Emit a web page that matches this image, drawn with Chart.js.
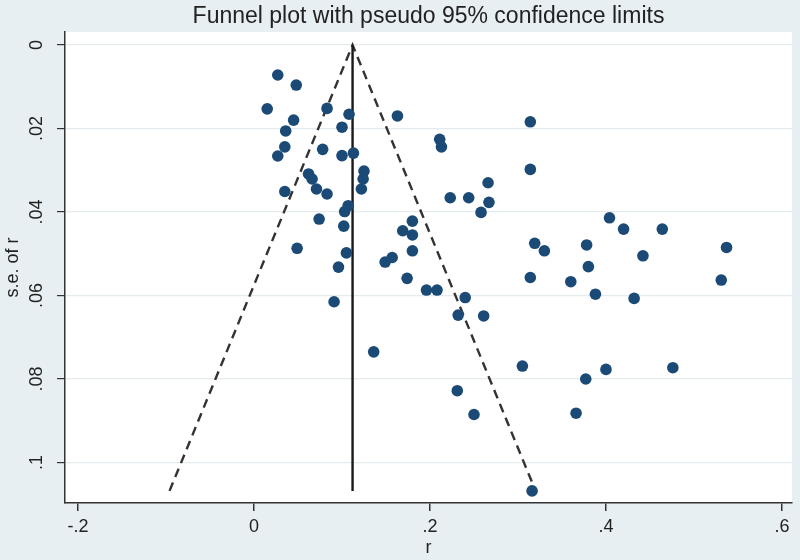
<!DOCTYPE html>
<html lang="en">
<head>
<meta charset="UTF-8">
<title>Funnel plot</title>
<script src="https://cdn.jsdelivr.net/npm/chart.js"></script>
<style>
    body {
        margin: 0;
        background-color: #e8eff2;
    }
    .chart-box {
        width: 800px;
        height: 560px;
    }
</style>
</head>
<body>
<div class="chart-box"><canvas id="funnelChart" width="800" height="560"></canvas></div>
<script>
// study effect sizes (r) and their standard errors
const rValues = [
    0.027, 0.048, 0.015, 0.083, 0.108, 0.045, 0.100, 0.036, 0.035, 0.078,
    0.027, 0.100, 0.113, 0.125, 0.124, 0.122, 0.062, 0.066, 0.035, 0.071,
    0.083, 0.107, 0.103, 0.074, 0.102, 0.049, 0.105, 0.096, 0.149, 0.157,
    0.163, 0.314, 0.211, 0.213, 0.314, 0.266, 0.223, 0.244, 0.267, 0.258,
    0.180, 0.169, 0.180, 0.180, 0.319, 0.330, 0.174, 0.314, 0.360, 0.196,
    0.208, 0.240, 0.232, 0.261, 0.305, 0.231, 0.250, 0.366, 0.316, 0.091,
    0.136, 0.404, 0.420, 0.464, 0.378, 0.442, 0.537, 0.380, 0.531, 0.388,
    0.432, 0.400, 0.377, 0.476
];
const seValues = [
    0.0072, 0.0096, 0.0153, 0.0152, 0.0166, 0.0180, 0.0197, 0.0206, 0.0244, 0.0250,
    0.0266, 0.0265, 0.0259, 0.0302, 0.0321, 0.0345, 0.0309, 0.0321, 0.0351, 0.0345,
    0.0357, 0.0385, 0.0399, 0.0417, 0.0434, 0.0487, 0.0498, 0.0532, 0.0520, 0.0509,
    0.0170, 0.0184, 0.0226, 0.0244, 0.0298, 0.0330, 0.0366, 0.0366, 0.0377, 0.0401,
    0.0422, 0.0445, 0.0455, 0.0493, 0.0475, 0.0493, 0.0559, 0.0557, 0.0567, 0.0587,
    0.0587, 0.0605, 0.0647, 0.0649, 0.0769, 0.0828, 0.0885, 0.0882, 0.1068, 0.0615,
    0.0735, 0.0414, 0.0441, 0.0441, 0.0479, 0.0505, 0.0485, 0.0531, 0.0563, 0.0597,
    0.0607, 0.0777, 0.0800, 0.0773
];

// pooled estimate line and pseudo 95% limits
const centerR = [0.112, 0.112];
const centerSE = [0, 0.1068];
const limitR = [-0.096, 0.112, 0.320];
const limitSE = [0.1068, 0, 0.1068];

const xTicks = [-0.2, 0, 0.2, 0.4, 0.6];
const xTickLabels = ['-.2', '0', '.2', '.4', '.6'];
const yTicks = [0, 0.02, 0.04, 0.06, 0.08, 0.1];
const yTickLabels = ['0', '.02', '.04', '.06', '.08', '.1'];

const chartTitle = 'Funnel plot with pseudo 95% confidence limits';
const fontFamily = '"Liberation Sans", Arial, sans-serif';

function toPoints(xs, ys) {
    return xs.map((x, i) => ({ x: x, y: ys[i] }));
}

const framePlugin = {
    id: 'frame',
    beforeDraw(chart) {
        const ctx = chart.ctx;
        const area = chart.chartArea;
        ctx.save();
        ctx.fillStyle = '#e8eff2';
        ctx.fillRect(0, 0, chart.width, chart.height);
        ctx.fillStyle = '#ffffff';
        ctx.fillRect(area.left, area.top, area.right - area.left, area.bottom - area.top);
        ctx.restore();
    },
    afterDraw(chart) {
        const ctx = chart.ctx;
        const area = chart.chartArea;
        ctx.save();
        ctx.font = '23px ' + fontFamily;
        ctx.fillStyle = '#222';
        ctx.textAlign = 'center';
        ctx.textBaseline = 'alphabetic';
        ctx.fillText(chartTitle, (area.left + area.right) / 2, 23);
        ctx.restore();
    }
};

const ctx = document.getElementById('funnelChart').getContext('2d');
new Chart(ctx, {
    type: 'scatter',
    data: {
        datasets: [
            {
                label: 'studies',
                data: toPoints(rValues, seValues),
                backgroundColor: '#1b4a76',
                borderWidth: 0,
                pointRadius: 5.8,
                order: 0
            },
            {
                type: 'line',
                label: 'pooled',
                data: toPoints(centerR, centerSE),
                borderColor: '#1a1a1a',
                borderWidth: 2.4,
                pointRadius: 0,
                fill: false,
                order: 1
            },
            {
                type: 'line',
                label: 'limits',
                data: toPoints(limitR, limitSE),
                borderColor: '#333',
                borderWidth: 2.4,
                borderDash: [9, 6],
                pointRadius: 0,
                fill: false,
                order: 2
            }
        ]
    },
    options: {
        responsive: false,
        animation: false,
        layout: { padding: { top: 32, right: 8, left: 0, bottom: 0 } },
        plugins: {
            legend: { display: false },
            tooltip: { enabled: false }
        },
        scales: {
            x: {
                type: 'linear',
                min: -0.2148,
                max: 0.6114,
                afterFit(scale) { scale.height = 57; },
                afterBuildTicks(scale) { scale.ticks = xTicks.map(v => ({ value: v })); },
                border: { display: true, color: '#333', width: 1.5 },
                grid: { drawOnChartArea: false, tickColor: '#333', tickLength: 8, lineWidth: 1.5 },
                ticks: {
                    autoSkip: false,
                    maxRotation: 0,
                    padding: 5,
                    color: '#222',
                    font: { family: fontFamily, size: 18 },
                    callback: (value) => xTickLabels[xTicks.indexOf(value)]
                },
                title: {
                    display: true,
                    text: 'r',
                    color: '#222',
                    font: { family: fontFamily, size: 18 },
                    padding: { top: 0, bottom: 1 }
                }
            },
            y: {
                type: 'linear',
                reverse: true,
                min: -0.0031,
                max: 0.1097,
                afterFit(scale) { scale.width = 65; },
                afterBuildTicks(scale) { scale.ticks = yTicks.map(v => ({ value: v })); },
                border: { display: true, color: '#333', width: 1.5 },
                grid: { color: '#e3ebef', tickColor: '#333', tickLength: 8, lineWidth: 1.2 },
                ticks: {
                    autoSkip: false,
                    minRotation: 90,
                    maxRotation: 90,
                    crossAlign: 'center',
                    padding: 7,
                    color: '#222',
                    font: { family: fontFamily, size: 18 },
                    callback: (value) => yTickLabels[yTicks.indexOf(value)]
                },
                title: {
                    display: true,
                    text: 's.e. of r',
                    color: '#222',
                    font: { family: fontFamily, size: 18 },
                    padding: { top: 2, bottom: 0 }
                }
            }
        }
    },
    plugins: [framePlugin]
});
</script>
</body>
</html>
